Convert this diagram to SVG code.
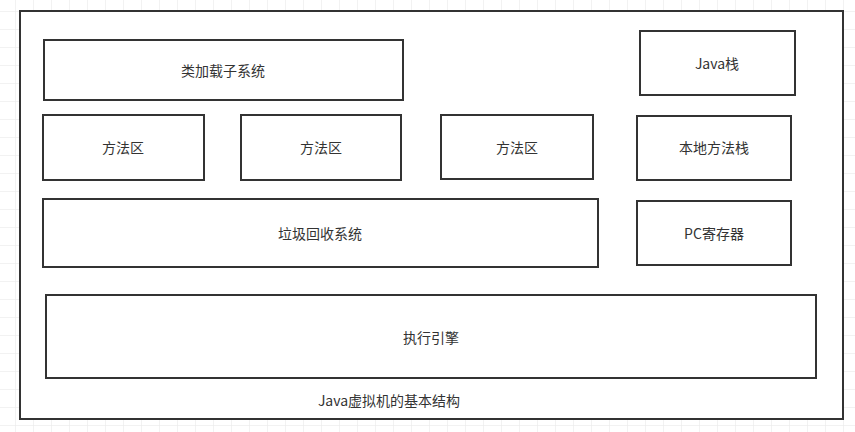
<svg xmlns="http://www.w3.org/2000/svg" width="855" height="432" viewBox="0 0 855 432">
<style>
.b{fill:#fff;stroke:#333;stroke-width:2}
text{font-family:"Noto Sans CJK SC","Liberation Sans",sans-serif;font-size:14px;fill:#333;text-anchor:middle;dominant-baseline:central}
</style>
<defs><pattern id="g" width="18" height="18" patternUnits="userSpaceOnUse" x="15" y="11"><path d="M0 0H18M0 0V18" fill="none" stroke="#e6e6e6" stroke-width="1"/></pattern></defs>
<rect width="855" height="432" fill="#fff"/>
<rect width="855" height="432" fill="url(#g)"/>
<g id="jvm"><rect class="b" x="20" y="11" width="823" height="408"/><text x="389" y="400">Java虚拟机的基本结构</text></g>
<g id="loader"><rect class="b" x="44" y="40" width="359" height="60"/><text x="223" y="70">类加载子系统</text></g>
<g id="javastack"><rect class="b" x="640" y="31" width="155" height="64"/><text x="717" y="63">Java栈</text></g>
<g id="m1"><rect class="b" x="43" y="115" width="161" height="65"/><text x="123" y="147">方法区</text></g>
<g id="m2"><rect class="b" x="241" y="115" width="160" height="65"/><text x="321" y="147">方法区</text></g>
<g id="m3"><rect class="b" x="441" y="115" width="152" height="64"/><text x="517" y="147">方法区</text></g>
<g id="native"><rect class="b" x="637" y="116" width="154" height="64"/><text x="714" y="147">本地方法栈</text></g>
<g id="gc"><rect class="b" x="43" y="199" width="555" height="68"/><text x="320" y="233">垃圾回收系统</text></g>
<g id="pc"><rect class="b" x="637" y="201" width="154" height="64"/><text x="714" y="233">PC寄存器</text></g>
<g id="exec"><rect class="b" x="46" y="295" width="770" height="83"/><text x="431" y="337">执行引擎</text></g>
<g id="connectors"/>
</svg>
